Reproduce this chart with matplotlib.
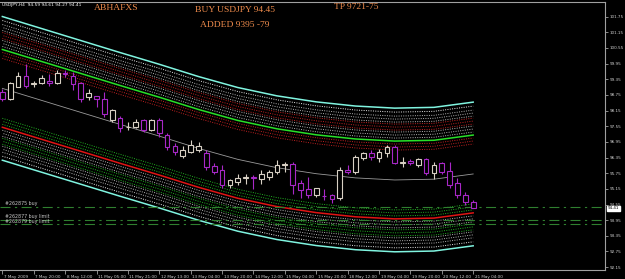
import matplotlib
matplotlib.use('Agg')
import matplotlib.pyplot as plt
import matplotlib.transforms as mtransforms
from matplotlib.patches import Rectangle
import numpy as np

# ---------------- data ----------------
opens = [98.86, 98.61, 99.07, 99.49, 99.16, 99.19, 99.30, 99.20, 99.58, 99.49,
         99.20, 98.66, 98.69, 98.60, 97.77, 97.85, 97.51, 97.52, 97.77, 97.39,
         97.77, 97.20, 96.78, 96.40, 96.55, 96.63, 96.51, 96.01, 95.86, 95.29,
         95.40, 95.55, 95.60, 95.52, 95.59, 95.78, 96.08, 96.09, 95.36, 95.14,
         94.90, 94.88, 94.90, 94.79, 95.86, 95.78, 96.32, 96.51, 96.32, 96.51,
         96.74, 96.15, 96.21, 96.05, 96.28, 95.75, 96.13, 95.82, 95.36, 94.90,
         94.64]
highs = [98.99, 99.23, 99.62, 99.92, 99.30, 99.53, 99.57, 99.69, 99.69, 99.62,
         99.24, 98.99, 98.70, 98.86, 98.22, 97.96, 97.71, 97.84, 97.84, 97.84,
         97.85, 97.28, 96.89, 96.78, 97.01, 96.93, 96.63, 96.13, 96.05, 95.54,
         95.71, 95.73, 95.67, 95.86, 95.89, 96.24, 96.18, 96.18, 95.48, 95.60,
         95.20, 95.16, 94.97, 95.99, 96.05, 96.44, 96.56, 96.63, 96.69, 96.82,
         96.82, 96.37, 96.28, 96.35, 96.35, 96.18, 96.18, 96.18, 95.55, 95.02,
         94.71]
lows = [98.53, 98.54, 99.04, 99.00, 99.07, 99.15, 99.11, 99.18, 99.42, 98.92,
        98.47, 98.54, 98.28, 97.90, 97.71, 97.33, 97.39, 97.47, 97.33, 97.36,
        97.12, 96.62, 96.43, 96.32, 96.51, 96.55, 95.86, 95.71, 95.20, 95.20,
        95.29, 95.35, 95.16, 95.35, 95.48, 95.73, 95.80, 94.97, 94.78, 94.78,
        94.84, 94.71, 94.59, 94.71, 95.71, 95.73, 96.27, 96.24, 96.18, 96.37,
        96.09, 95.99, 96.05, 95.99, 95.67, 95.54, 95.73, 95.20, 94.79, 94.52,
        94.40]
closes = [98.60, 99.19, 99.46, 99.11, 99.20, 99.38, 99.19, 99.58, 99.56, 99.15,
          98.60, 98.82, 98.58, 98.03, 98.16, 97.47, 97.52, 97.71, 97.39, 97.77,
          97.28, 96.74, 96.55, 96.63, 96.82, 96.78, 95.98, 95.78, 95.29, 95.48,
          95.55, 95.59, 95.58, 95.71, 95.78, 96.05, 96.09, 95.29, 95.10, 94.90,
          95.17, 94.87, 94.75, 95.86, 95.78, 96.36, 96.51, 96.36, 96.55, 96.74,
          96.13, 96.17, 96.13, 96.28, 95.75, 96.05, 95.78, 95.29, 94.90, 94.64,
          94.41]

# regression centre line (bar index, price)
center_bars = [0, 5, 10, 15, 20, 25, 30, 35, 40, 45, 50, 55, 60]
center_prices = [99.00, 98.54, 98.08, 97.62, 97.17, 96.70, 96.28, 95.96,
                 95.73, 95.57, 95.49, 95.52, 95.72]

# channel offsets from the centre line (price units)
upper_dotted_bands = [(2.218, 2.447, '#b4b4b4'), (1.912, 2.141, '#c42222'),
                      (1.606, 1.836, '#b4b4b4'), (1.147, 1.377, '#c42222')]
lower_dotted_bands = [(2.218, 2.447, '#b4b4b4'), (1.912, 2.141, '#22b422'),
                      (1.606, 1.836, '#b4b4b4'), (1.147, 1.377, '#22b422')]
upper_solid = [(1.491, '#28e028'), (2.753, '#80f4e0')]
lower_solid = [(1.491, '#e01414'), (2.753, '#80f4e0')]
outer_dotted = 2.600

# pending / open orders
order_prices = [94.45, 93.95, 93.79]
order_labels = ['#262875 buy', '#262877 buy limit', '#262879 buy limit']

y_ticks = [92.15, 92.75, 93.35, 93.95, 94.55, 95.15, 95.75, 96.35, 96.95,
           97.55, 98.15, 98.75, 99.35, 99.95, 100.55, 101.15, 101.75]
x_tick_bars = [0, 4, 8, 12, 16, 20, 24, 28, 32, 36, 40, 44, 48, 52, 56, 60]
x_tick_labels = ['7 May 2009', '7 May 20:00', '8 May 12:00', '11 May 05:00',
                 '11 May 21:00', '12 May 13:00', '13 May 04:00', '13 May 20:00',
                 '14 May 12:00', '15 May 04:00', '15 May 20:00', '18 May 12:00',
                 '19 May 04:00', '19 May 20:00', '20 May 12:00', '21 May 04:00']

header = 'USDJPY,H4  94.59 94.61 94.27 94.41'
last_price = 94.41

# ---------------- figure ----------------
W, H = 625, 279
fig = plt.figure(figsize=(W / 100, H / 100), dpi=100, facecolor='black')
ax = fig.add_axes([0, 9 / H, 605 / W, 268 / H], facecolor='black')
ax.set_xlim(-0.3, 76.8)
ax.set_ylim(92.04, 102.31)

cb = np.array(center_bars)
cp = np.array(center_prices)
dot = (0, (1.0, 1.4))
dot2 = (1.2, (1.0, 1.4))

for lo, hi, col in upper_dotted_bands:
    for off, ls in ((lo, dot), ((lo + hi) / 2, dot2), (hi, dot)):
        ax.plot(cb, cp + off, color=col, lw=0.7, ls=ls, zorder=1)
for lo, hi, col in lower_dotted_bands:
    for off, ls in ((lo, dot), ((lo + hi) / 2, dot2), (hi, dot)):
        ax.plot(cb, cp - off, color=col, lw=0.7, ls=ls, zorder=1)
for off, col in upper_solid:
    ax.plot(cb, cp + off, color=col, lw=1.1, zorder=1)
for off, col in lower_solid:
    ax.plot(cb, cp - off, color=col, lw=1.1, zorder=1)
ax.plot(cb, cp + outer_dotted, color='#e8e8e8', lw=0.7, ls=dot, zorder=1)
ax.plot(cb, cp - outer_dotted, color='#e8e8e8', lw=0.7, ls=dot, zorder=1)
ax.plot(cb, cp, color='#9a9a9a', lw=0.6, zorder=1)

# order lines
for p, lab in zip(order_prices, order_labels):
    ax.axhline(p, color='#2f7f2f', lw=0.8, ls=(0, (9, 4, 2, 4)), zorder=1)
    ax.text(0.3, p + 0.03, lab, color='#c8c8c8', fontsize=3.4,
            va='bottom', ha='left', zorder=5)

# candles
bull, bear = '#d8d0c4', '#a828c8'
for i, (o, h, l, c) in enumerate(zip(opens, highs, lows, closes)):
    col = bull if c >= o else bear
    ax.vlines(i, l, h, color=col, lw=0.8, zorder=2)
    ax.add_patch(Rectangle((i - 0.3, min(o, c)), 0.6, max(abs(c - o), 0.006),
                           facecolor='black', edgecolor=col, lw=0.8, zorder=3))

# axes styling
ax.spines['left'].set_visible(False)
for s in ('right', 'bottom', 'top'):
    ax.spines[s].set_color('#a0a0a0')
    ax.spines[s].set_linewidth(0.8)

ax.yaxis.tick_right()
ax.set_yticks(y_ticks)
ax.set_yticklabels([f'{v:.2f}' for v in y_ticks])
ax.tick_params(axis='y', colors='#a0a0a0', labelcolor='#d0d0d0', length=2,
               width=0.6, labelsize=3.0, pad=1.2)
ax.set_xticks(x_tick_bars)
ax.set_xticklabels(x_tick_labels)
ax.tick_params(axis='x', colors='#a0a0a0', labelcolor='#d0d0d0', length=3,
               width=0.6, labelsize=3.0, pad=0.5)
offset = mtransforms.ScaledTranslation(1.5 / 100, 0, fig.dpi_scale_trans)
for t in ax.get_xticklabels():
    t.set_horizontalalignment('left')
    t.set_transform(t.get_transform() + offset)

# current price box
ax.text(1.005, last_price, f'{last_price:.2f}', transform=ax.get_yaxis_transform(),
        fontsize=3.0, color='black', va='center', ha='left', zorder=6,
        bbox=dict(boxstyle='square,pad=0.15', facecolor='white', edgecolor='white'))

# header + annotations
fig.text(2 / W, 1 - 5 / H, header, color='white', fontsize=3.2,
         va='center', ha='left', family='DejaVu Sans')
orange = '#f08c4c'
serif = 'Liberation Serif'
fig.text(116 / W, 1 - 8 / H, 'ABHAFXS', color=orange, fontsize=6.8,
         family=serif, ha='center', va='center')
fig.text(235 / W, 1 - 10 / H, 'BUY USDJPY 94.45', color=orange, fontsize=6.8,
         family=serif, ha='center', va='center')
fig.text(235 / W, 1 - 25 / H, 'ADDED 9395 -79', color=orange, fontsize=6.8,
         family=serif, ha='center', va='center')
fig.text(356 / W, 1 - 7 / H, 'TP 9721-75', color=orange, fontsize=6.8,
         family=serif, ha='center', va='center')

fig.savefig('out.png', dpi=100, facecolor='black')
